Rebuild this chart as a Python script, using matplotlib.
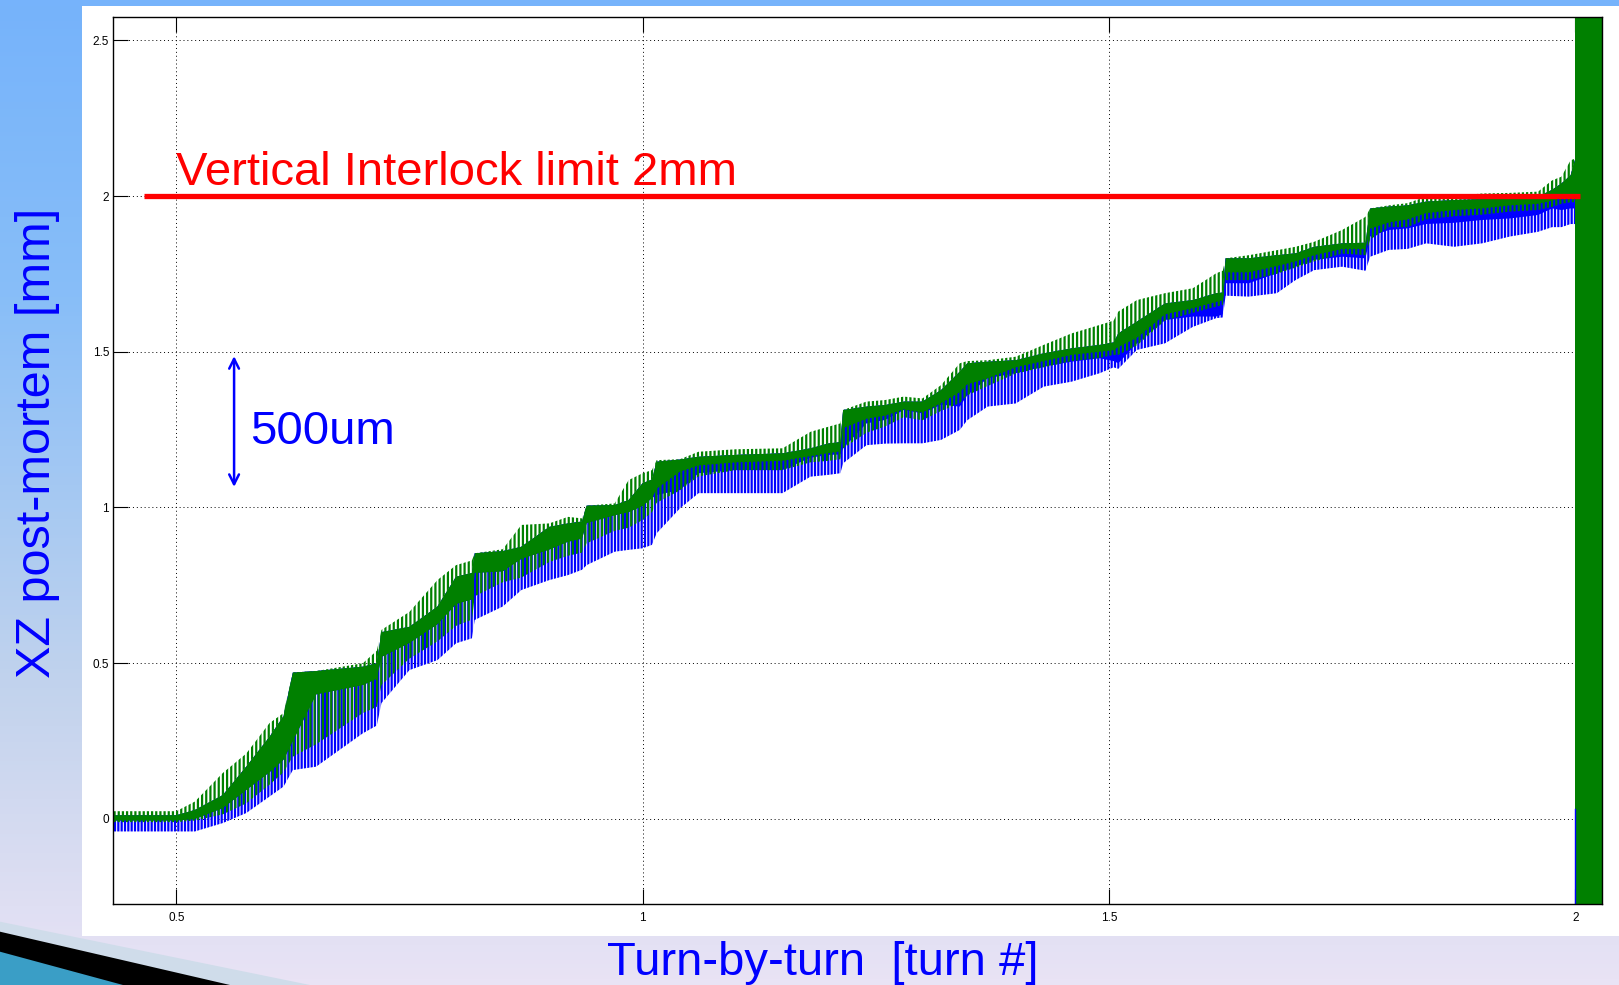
import numpy as np
import matplotlib
matplotlib.use('Agg')
import matplotlib.pyplot as plt
from matplotlib.colors import LinearSegmentedColormap
from matplotlib.patches import Rectangle, Polygon

plt.rcParams['font.family'] = ['Liberation Sans', 'DejaVu Sans']
plt.rcParams['hatch.linewidth'] = 1.6

# ---------------- data, x in turns (x1e5), y in mm ----------------
turn = [0.4325, 0.50, 0.52, 0.55, 0.575, 0.60, 0.615, 0.625, 0.65, 0.70, 0.715, 0.72, 0.75, 0.78,
        0.80, 0.817, 0.82, 0.85, 0.87, 0.90, 0.92, 0.935, 0.94, 0.97, 0.985, 1.00, 1.01, 1.015,
        1.04, 1.06, 1.10, 1.15, 1.18, 1.20, 1.212, 1.215, 1.24, 1.26, 1.28, 1.30, 1.32, 1.34,
        1.348, 1.37, 1.40, 1.43, 1.46, 1.49, 1.505, 1.51, 1.53, 1.56, 1.59, 1.615, 1.622, 1.625,
        1.65, 1.68, 1.70, 1.72, 1.75, 1.775, 1.78, 1.80, 1.82, 1.84, 1.87, 1.90, 1.93, 1.96,
        1.975, 1.985, 1.995, 2.0]
# green (XZ) trace: top of spikes, top of solid band, bottom of solid band, bottom of spikes
green_spike_top = [0.025, 0.025, 0.056, 0.148, 0.210, 0.308, 0.340, 0.470, 0.475, 0.500, 0.540, 0.607,
                   0.665, 0.767, 0.815, 0.830, 0.853, 0.866, 0.944, 0.949, 0.970, 0.965, 1.006, 1.013,
                   1.088, 1.110, 1.120, 1.152, 1.155, 1.179, 1.187, 1.190, 1.243, 1.260, 1.270, 1.313,
                   1.340, 1.345, 1.356, 1.350, 1.393, 1.463, 1.470, 1.473, 1.484, 1.522, 1.559, 1.586,
                   1.600, 1.629, 1.666, 1.688, 1.704, 1.752, 1.760, 1.800, 1.810, 1.826, 1.837, 1.853,
                   1.891, 1.933, 1.960, 1.970, 1.977, 1.998, 2.000, 2.008, 2.010, 2.014, 2.050, 2.062,
                   2.115, 2.120]
green_top = [0.012, 0.012, 0.029, 0.077, 0.168, 0.264, 0.330, 0.470, 0.475, 0.489, 0.500, 0.600,
             0.617, 0.682, 0.778, 0.790, 0.853, 0.860, 0.874, 0.938, 0.949, 0.955, 1.006, 1.008,
             1.024, 1.078, 1.090, 1.147, 1.154, 1.163, 1.169, 1.174, 1.190, 1.206, 1.210, 1.313,
             1.324, 1.329, 1.340, 1.340, 1.377, 1.436, 1.463, 1.468, 1.473, 1.495, 1.511, 1.522,
             1.530, 1.559, 1.597, 1.655, 1.666, 1.688, 1.690, 1.800, 1.800, 1.810, 1.816, 1.837,
             1.848, 1.850, 1.960, 1.966, 1.970, 1.982, 1.987, 1.990, 1.993, 1.998, 2.020, 2.040,
             2.067, 2.120]
green_core_bottom = [-0.005, -0.005, 0.000, 0.035, 0.093, 0.150, 0.190, 0.250, 0.400, 0.430, 0.450, 0.520,
                     0.565, 0.625, 0.690, 0.705, 0.790, 0.795, 0.835, 0.865, 0.890, 0.900, 0.950, 0.975,
                     0.985, 1.005, 1.030, 1.060, 1.115, 1.135, 1.145, 1.150, 1.165, 1.175, 1.180, 1.255,
                     1.285, 1.295, 1.315, 1.305, 1.335, 1.370, 1.395, 1.415, 1.450, 1.470, 1.490, 1.500,
                     1.505, 1.515, 1.545, 1.620, 1.640, 1.660, 1.665, 1.755, 1.755, 1.775, 1.790, 1.810,
                     1.830, 1.830, 1.895, 1.915, 1.925, 1.945, 1.955, 1.960, 1.970, 1.975, 1.985, 1.995,
                     2.005, 2.005]
green_spike_bottom = [-0.010, -0.010, -0.005, 0.015, 0.050, 0.110, 0.150, 0.200, 0.240, 0.340, 0.360, 0.430,
                      0.515, 0.570, 0.620, 0.640, 0.715, 0.760, 0.775, 0.825, 0.845, 0.855, 0.885, 0.925,
                      0.935, 0.960, 0.985, 1.015, 1.055, 1.100, 1.120, 1.120, 1.145, 1.150, 1.155, 1.190,
                      1.240, 1.260, 1.290, 1.280, 1.310, 1.335, 1.360, 1.390, 1.430, 1.450, 1.470, 1.480,
                      1.490, 1.490, 1.520, 1.600, 1.625, 1.645, 1.650, 1.730, 1.730, 1.750, 1.770, 1.790,
                      1.815, 1.810, 1.860, 1.900, 1.900, 1.925, 1.935, 1.940, 1.950, 1.955, 1.965, 1.975,
                      1.980, 1.980]
# blue (XZ, second BPM) trace: bottom of solid band, bottom of spikes
blue_core_bottom = [-0.005, -0.005, 0.000, 0.035, 0.093, 0.150, 0.190, 0.250, 0.400, 0.430, 0.450, 0.520,
                    0.565, 0.625, 0.690, 0.705, 0.790, 0.795, 0.835, 0.865, 0.890, 0.900, 0.950, 0.975,
                    0.985, 1.005, 1.030, 1.040, 1.056, 1.110, 1.120, 1.120, 1.160, 1.169, 1.170, 1.190,
                    1.270, 1.281, 1.313, 1.302, 1.330, 1.324, 1.360, 1.415, 1.431, 1.452, 1.468, 1.479,
                    1.470, 1.463, 1.527, 1.602, 1.613, 1.613, 1.620, 1.720, 1.720, 1.752, 1.773, 1.795,
                    1.805, 1.800, 1.870, 1.891, 1.896, 1.910, 1.914, 1.923, 1.928, 1.939, 1.960, 1.955,
                    1.960, 1.960]
blue_spike_bottom = [-0.040, -0.040, -0.040, -0.013, 0.019, 0.072, 0.104, 0.157, 0.168, 0.275, 0.300, 0.372,
                     0.478, 0.510, 0.564, 0.580, 0.639, 0.682, 0.735, 0.767, 0.783, 0.800, 0.815, 0.858,
                     0.864, 0.869, 0.880, 0.917, 0.997, 1.046, 1.046, 1.046, 1.099, 1.105, 1.110, 1.142,
                     1.200, 1.205, 1.206, 1.206, 1.217, 1.249, 1.280, 1.324, 1.334, 1.388, 1.404, 1.431,
                     1.450, 1.445, 1.506, 1.527, 1.580, 1.608, 1.610, 1.680, 1.677, 1.688, 1.730, 1.762,
                     1.773, 1.760, 1.805, 1.827, 1.830, 1.848, 1.837, 1.848, 1.870, 1.885, 1.900, 1.900,
                     1.910, 1.910]

interlock_limit = 2.0
limit_line_x = [0.465, 2.005]
beam_dump_turn = 2.0
blue_tail_top = 0.032
scale_bar_x = 0.562
scale_bar_y = [1.066, 1.486]

xtick_values = [0.5, 1.0, 1.5, 2.0]
xtick_labels = ['0.5', '1', '1.5', '2']
ytick_values = [0, 0.5, 1.0, 1.5, 2.0, 2.5]
ytick_labels = ['0', '0.5', '1', '1.5', '2', '2.5']

W, H = 1619, 985
fig = plt.figure(figsize=(W / 100, H / 100), dpi=100)

# ---------------- slide background ----------------
bg = fig.add_axes([0, 0, 1, 1], zorder=-10)
bg.set_xlim(0, W)
bg.set_ylim(H, 0)
bg.axis('off')
cmap = LinearSegmentedColormap.from_list('slide', [(0.0, '#76b3fb'), (0.3, '#88bef8'),
                                                   (0.7, '#c2d3ed'), (1.0, '#e9e3f5')])
grad = np.linspace(0, 1, 256)[:, None]
bg.imshow(grad, cmap=cmap, extent=(0, W, H, 0), aspect='auto', interpolation='bilinear')
bg.add_patch(Rectangle((82, 6), W - 82, 935.7 - 6, facecolor='white', edgecolor='none'))
bg.add_patch(Polygon([(0, 921.7), (310, 985), (0, 985)], closed=True, facecolor='#cfdcea', edgecolor='none'))
bg.add_patch(Polygon([(0, 931.7), (230, 985), (0, 985)], closed=True, facecolor='black', edgecolor='none'))
bg.add_patch(Polygon([(0, 951.7), (123, 985), (0, 985)], closed=True, facecolor='#3a9ec6', edgecolor='none'))

# ---------------- main axes ----------------
ax = fig.add_axes([113.3 / W, 1 - 904 / H, (1602.3 - 113.3) / W, (904 - 17.3) / H])
ax.set_facecolor('white')
ax.set_xlim(0.4325, 2.0289)
ax.set_ylim(-0.2729, 2.5737)

GREEN = '#008000'
BLUE = '#0000ff'

t = np.array(turn)
ax.fill_between(t, blue_spike_bottom, green_top, facecolor='none', edgecolor=BLUE,
                linewidth=0, hatch='|||||', zorder=2.0)
ax.fill_between(t, blue_core_bottom, green_top, facecolor=BLUE, edgecolor='none',
                linewidth=0, zorder=2.05)
ax.fill_between(t, green_spike_bottom, green_top, facecolor='none', edgecolor=GREEN,
                linewidth=0, hatch='||||', zorder=2.1)
ax.fill_between(t, green_top, green_spike_top, facecolor='none', edgecolor=GREEN,
                linewidth=0, hatch='||||', zorder=2.15)
ax.fill_between(t, green_core_bottom, green_top, facecolor=GREEN, edgecolor='none',
                linewidth=0, zorder=2.2)

# signal saturates after the beam dump
ax.axvspan(beam_dump_turn, ax.get_xlim()[1], facecolor=GREEN, edgecolor='none', zorder=2.3)
ax.plot([beam_dump_turn, beam_dump_turn], [ax.get_ylim()[0], blue_tail_top], color=BLUE,
        linewidth=1.0, zorder=2.35)

# interlock limit
ax.plot(limit_line_x, [interlock_limit, interlock_limit], color='#ff0000', linewidth=3.8,
        solid_capstyle='butt', zorder=3)
ax.text(0.4995, 2.035, 'Vertical Interlock limit 2mm', color='#ff0000', fontsize=34,
        ha='left', va='baseline', zorder=4)

# 500 um scale bar
ax.annotate('', xy=(scale_bar_x, scale_bar_y[1]), xytext=(scale_bar_x, scale_bar_y[0]),
            arrowprops=dict(arrowstyle='<->, head_length=0.7, head_width=0.35', color=BLUE,
                            lw=1.8, shrinkA=0, shrinkB=0), zorder=4)
ax.text(0.579, 1.204, '500um', color=BLUE, fontsize=34, ha='left', va='baseline', zorder=4)

# MATLAB-style axes
ax.set_xticks(xtick_values)
ax.set_xticklabels(xtick_labels)
ax.set_yticks(ytick_values)
ax.set_yticklabels(ytick_labels)
ax.tick_params(direction='in', length=10.8, width=0.8, top=True, right=True,
               labelsize=8.5, colors='black')
ax.tick_params(axis='x', pad=6)
ax.tick_params(axis='y', pad=3)
ax.grid(True, color='black', linestyle=(0, (1, 3)), linewidth=0.7)
ax.set_axisbelow(True)
for s in ax.spines.values():
    s.set_linewidth(1.0)
    s.set_color('black')
    s.set_zorder(3.5)

# slide axis titles
fig.text(822.5 / W, 1 - 975 / H, 'Turn-by-turn  [turn #]', color=BLUE, fontsize=34,
         ha='center', va='baseline')
fig.text(37.5 / W, 1 - 442.5 / H, 'XZ post-mortem [mm]', color=BLUE, fontsize=35,
         rotation=90, ha='center', va='center')

fig.savefig('out.png', dpi=100)
